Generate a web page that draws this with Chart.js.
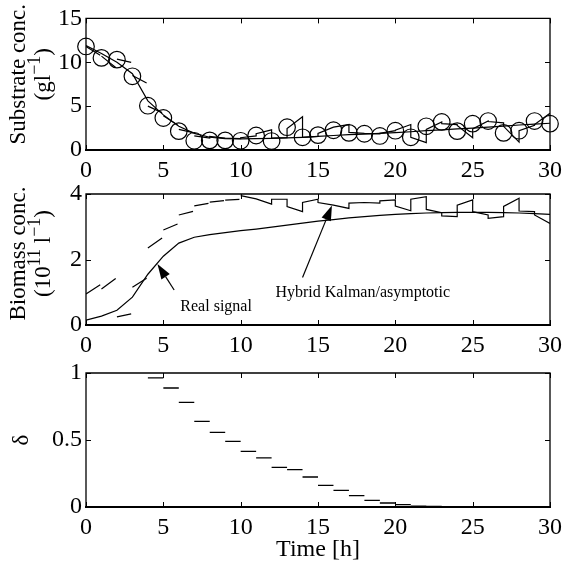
<!DOCTYPE html>
<html>
<head>
<meta charset="utf-8">
<script src="https://cdn.jsdelivr.net/npm/chart.js@4.4.1/dist/chart.umd.min.js"></script>
<style>
  html, body { margin: 0; padding: 0; background: #fff; }
  #wrap { position: relative; width: 568px; height: 565px; overflow: hidden; }
  canvas { position: absolute; left: 0; }
</style>
</head>
<body>
<div id="wrap">
  <canvas id="substrateChart" width="568" height="190" style="top:0px"></canvas>
  <canvas id="biomassChart" width="568" height="200" style="top:165px"></canvas>
  <canvas id="deltaChart" width="568" height="225" style="top:340px"></canvas>
</div>
<script>
// ---- data ----
const hours = [0, 1, 2, 3, 4, 5, 6, 7, 8, 9, 10, 11, 12, 13, 14, 15, 16, 17, 18, 19, 20, 21, 22, 23, 24, 25, 26, 27, 28, 29, 30];

// substrate (g/l)
const substrateMeasured = [11.8, 10.5, 10.3, 8.4, 5.05, 3.65, 2.15, 1.05, 1.1, 1.1, 1.05, 1.65, 1.02, 2.6, 1.45, 1.7, 2.25, 1.95, 1.85, 1.6, 2.2, 1.45, 2.7, 3.2, 2.15, 3.0, 3.3, 1.95, 2.2, 3.3, 3.0];
const substrateReal = [11.9, 11.0, 10.0, 8.7, 5.6, 4.0, 2.7, 1.9, 1.45, 1.3, 1.27, 1.3, 1.33, 1.38, 1.45, 1.55, 1.65, 1.75, 1.82, 1.9, 1.98, 2.08, 2.2, 2.3, 2.4, 2.5, 2.6, 2.72, 2.85, 2.95, 3.05];
// hybrid estimate: value at start and end of each hourly interval
const substrateEstHour = [0, 1, 2, 3, 4, 5, 6, 7, 8, 9, 10, 11, 12, 13, 14, 15, 16, 17, 18, 19, 20, 21, 22, 23, 24, 25, 26, 27, 28, 29];
const substrateEstStart = [11.8, 10.7, 10.35, 8.5, 5.0, 3.9, 2.35, 1.6, 1.55, 1.35, 1.4, 1.85, 1.35, 2.45, 1.45, 1.9, 2.6, 2.0, 1.9, 1.9, 2.25, 1.45, 2.35, 3.0, 2.8, 2.4, 3.25, 2.7, 2.2, 2.9];
const substrateEstEnd = [10.7, 9.3, 9.95, 7.55, 4.2, 2.75, 1.95, 1.35, 1.35, 1.3, 1.6, 2.3, 1.4, 3.8, 1.55, 2.6, 2.9, 1.9, 1.85, 2.2, 2.9, 0.85, 3.2, 2.9, 1.4, 3.3, 3.1, 0.9, 2.8, 4.2];
const substrateLinkedFrom = 7;

// biomass (10^11 /l)
const biomassReal = [0.15, 0.27, 0.45, 0.85, 1.55, 2.1, 2.5, 2.68, 2.76, 2.82, 2.88, 2.93, 2.99, 3.05, 3.11, 3.17, 3.22, 3.27, 3.31, 3.35, 3.38, 3.4, 3.42, 3.43, 3.44, 3.44, 3.44, 3.43, 3.42, 3.4, 3.38];
const biomassEstHour = [0, 1, 2, 3, 4, 5, 6, 7, 8, 9, 10, 11, 12, 13, 14, 15, 16, 17, 18, 19, 20, 21, 22, 23, 24, 25, 26, 27, 28, 29];
const biomassEstStart = [0.95, 1.1, 0.25, 1.15, 2.35, 2.9, 3.36, 3.64, 3.75, 3.81, 3.95, 3.85, 3.84, 3.62, 3.74, 3.74, 3.66, 3.72, 3.74, 3.79, 3.63, 3.84, 3.53, 3.33, 3.66, 3.46, 3.26, 3.62, 3.48, 3.36];
const biomassEstEnd = [1.25, 1.45, 0.35, 1.45, 2.68, 3.1, 3.48, 3.72, 3.8, 3.84, 3.85, 3.69, 3.84, 3.46, 3.84, 3.66, 3.56, 3.74, 3.72, 3.82, 3.49, 3.92, 3.43, 3.31, 3.82, 3.36, 3.31, 3.87, 3.46, 3.1];
const biomassLinkedFrom = 10;

// delta, one value per hour from t = 4
const deltaHour = [4, 5, 6, 7, 8, 9, 10, 11, 12, 13, 14, 15, 16, 17, 18, 19, 20, 21, 22, 23, 24, 25, 26, 27, 28, 29];
const deltaValue = [0.963, 0.888, 0.781, 0.639, 0.557, 0.49, 0.415, 0.366, 0.296, 0.279, 0.224, 0.162, 0.124, 0.085, 0.05, 0.03, 0.017, 0.007, 0.005, 0.003, 0.002, 0, 0, 0, 0, 0];

// annotations in the biomass panel
const noteTexts = ["Real signal", "Hybrid Kalman/asymptotic"];
const noteT = [6.1, 12.25];
const noteV = [0.55, 0.99];
const arrowTailT = [5.7, 14.0];
const arrowTailV = [1.07, 1.45];
const arrowTipT = [4.62, 15.9];
const arrowTipV = [1.86, 3.65];

// axis labels, pieces marked sup are superscripts
const substrateLabel = [[{ text: "Substrate conc." }], [{ text: "(gl" }, { text: "\u22121", sup: true }, { text: ")" }]];
const biomassLabel = [[{ text: "Biomass conc." }], [{ text: "(10" }, { text: "11", sup: true }, { text: " l" }, { text: "\u22121", sup: true }, { text: ")" }]];
const deltaLabel = [[{ text: "\u03B4" }]];

// ---- helpers ----
const FONT = "Liberation Serif";
const DASH_GAP = 0.08;
Chart.defaults.font.family = FONT;
Chart.defaults.font.size = 24;
Chart.defaults.color = "#000";

const pts = (xs, ys) => xs.map((x, i) => ({ x, y: ys[i] }));

const estimatePath = (hrs, starts, ends, linkedFrom) => {
  const out = [];
  hrs.forEach((k, i) => {
    const s = starts[i], e = ends[i];
    if (k < linkedFrom) {
      const xe = k + 1 - DASH_GAP;
      out.push({ x: k, y: s }, { x: xe, y: s + (e - s) * (1 - DASH_GAP) }, { x: xe, y: null });
    } else {
      out.push({ x: k, y: s }, { x: k + 1, y: e });
    }
  });
  return out;
};

const stepDashes = (hrs, vals) => {
  const out = [];
  hrs.forEach((k, i) => {
    out.push({ x: k, y: vals[i] }, { x: k + 1, y: vals[i] }, { x: k + 1, y: null });
  });
  return out;
};

// box around the axes with inward ticks on all four sides
const frame = {
  id: "frame",
  afterDatasetsDraw(chart) {
    const { ctx, chartArea: a, scales: { x, y } } = chart;
    ctx.save();
    ctx.strokeStyle = "#000";
    ctx.lineWidth = 1.3;
    ctx.beginPath();
    ctx.moveTo(a.left, a.bottom);
    ctx.lineTo(a.left, a.top);
    ctx.lineTo(a.right, a.top);
    ctx.lineTo(a.right, a.bottom);
    ctx.stroke();
    ctx.lineWidth = 2;
    ctx.beginPath();
    ctx.moveTo(a.left - 1, a.bottom);
    ctx.lineTo(a.right + 1, a.bottom);
    ctx.stroke();
    ctx.lineWidth = 1;
    ctx.beginPath();
    const len = 5;
    x.ticks.forEach((t) => {
      const px = Math.round(x.getPixelForValue(t.value)) + 0.5;
      ctx.moveTo(px, a.bottom);
      ctx.lineTo(px, a.bottom - len);
      ctx.moveTo(px, a.top);
      ctx.lineTo(px, a.top + len);
    });
    y.ticks.forEach((t) => {
      const py = Math.round(y.getPixelForValue(t.value)) + 0.5;
      ctx.moveTo(a.left, py);
      ctx.lineTo(a.left + len, py);
      ctx.moveTo(a.right, py);
      ctx.lineTo(a.right - len, py);
    });
    ctx.stroke();
    ctx.restore();
  },
};

// rotated y label with superscripts; lines go left to right
const yLabel = (lines, xs, shift) => ({
  id: "yLabel",
  afterDraw(chart) {
    const { ctx, chartArea: a } = chart;
    const cy = (a.top + a.bottom) / 2 + shift;
    const fontOf = (p) => `${p.sup ? 18 : 23}px '${FONT}'`;
    lines.forEach((pieces, li) => {
      ctx.save();
      ctx.translate(xs[li], cy);
      ctx.rotate(-Math.PI / 2);
      ctx.fillStyle = "#000";
      ctx.textBaseline = "middle";
      ctx.textAlign = "left";
      let total = 0;
      pieces.forEach((p) => { ctx.font = fontOf(p); total += ctx.measureText(p.text).width; });
      let cx = -total / 2;
      pieces.forEach((p) => {
        ctx.font = fontOf(p);
        ctx.fillText(p.text, cx, p.sup ? -8 : 0);
        cx += ctx.measureText(p.text).width;
      });
      ctx.restore();
    });
  },
});

const notes = {
  id: "notes",
  afterDatasetsDraw(chart) {
    const { ctx, scales: { x, y } } = chart;
    ctx.save();
    ctx.fillStyle = "#000";
    ctx.strokeStyle = "#000";
    ctx.lineWidth = 1.2;
    noteTexts.forEach((txt, i) => {
      const x0 = x.getPixelForValue(arrowTailT[i]), y0 = y.getPixelForValue(arrowTailV[i]);
      const x1 = x.getPixelForValue(arrowTipT[i]), y1 = y.getPixelForValue(arrowTipV[i]);
      const ang = Math.atan2(y1 - y0, x1 - x0);
      const headLen = 15, half = 5;
      const bx = x1 - headLen * Math.cos(ang), by = y1 - headLen * Math.sin(ang);
      ctx.beginPath();
      ctx.moveTo(x0, y0);
      ctx.lineTo(bx, by);
      ctx.stroke();
      ctx.beginPath();
      ctx.moveTo(x1, y1);
      ctx.lineTo(bx - half * Math.sin(ang), by + half * Math.cos(ang));
      ctx.lineTo(bx + half * Math.sin(ang), by - half * Math.cos(ang));
      ctx.closePath();
      ctx.fill();
      ctx.font = `16px '${FONT}'`;
      ctx.textAlign = "left";
      ctx.textBaseline = "middle";
      ctx.fillText(txt, x.getPixelForValue(noteT[i]), y.getPixelForValue(noteV[i]));
    });
    ctx.restore();
  },
};

const lineSet = (data, width) => ({
  data,
  borderColor: "#000",
  borderWidth: width,
  pointRadius: 0,
  spanGaps: false,
  tension: 0,
});

const makeChart = (id, datasets, cfg) => {
  const canvas = document.getElementById(id);
  return new Chart(canvas.getContext("2d"), {
    type: "line",
    data: { datasets },
    plugins: cfg.plugins,
    options: {
      responsive: false,
      animation: false,
      layout: { padding: { top: cfg.areaTop, right: 11, left: 0, bottom: 0 } },
      plugins: { legend: { display: false }, tooltip: { enabled: false } },
      scales: {
        x: {
          type: "linear",
          min: 0,
          max: 30,
          grid: { display: false, drawTicks: false },
          border: { display: false },
          ticks: { stepSize: 5, padding: 6, maxRotation: 0 },
          title: cfg.xTitle
            ? { display: true, text: cfg.xTitle, padding: { top: 0, bottom: 1 }, font: { size: 24 } }
            : { display: false },
          afterFit: (s) => { s.height = canvas.height - cfg.areaBottom; },
        },
        y: {
          type: "linear",
          min: cfg.yMin,
          max: cfg.yMax,
          grid: { display: false, drawTicks: false },
          border: { display: false },
          ticks: { stepSize: cfg.yStep, padding: 4, callback: (v) => `${v}` },
          afterFit: (s) => { s.width = 86; },
        },
      },
    },
  });
};

// ---- substrate ----
makeChart(
  "substrateChart",
  [
    {
      data: pts(hours, substrateMeasured),
      showLine: false,
      pointStyle: "circle",
      pointRadius: 8.3,
      pointBorderWidth: 1.2,
      pointBorderColor: "#000",
      pointBackgroundColor: "rgba(0,0,0,0)",
      clip: false,
    },
    lineSet(pts(hours, substrateReal), 1.2),
    lineSet(estimatePath(substrateEstHour, substrateEstStart, substrateEstEnd, substrateLinkedFrom), 1.2),
  ],
  {
    areaTop: 15, areaBottom: 150, yMin: 0, yMax: 15, yStep: 5,
    plugins: [frame, yLabel(substrateLabel, [18.5, 43.5], -10)],
  }
);

// ---- biomass ----
makeChart(
  "biomassChart",
  [
    lineSet(pts(hours, biomassReal), 1.2),
    lineSet(estimatePath(biomassEstHour, biomassEstStart, biomassEstEnd, biomassLinkedFrom), 1.2),
  ],
  {
    areaTop: 29, areaBottom: 160, yMin: 0, yMax: 4, yStep: 2,
    plugins: [frame, notes, yLabel(biomassLabel, [18.5, 43.5], -6)],
  }
);

// ---- delta ----
makeChart(
  "deltaChart",
  [lineSet(stepDashes(deltaHour, deltaValue), 1.3)],
  {
    areaTop: 33, areaBottom: 167, yMin: 0, yMax: 1, yStep: 0.5,
    xTitle: "Time [h]", plugins: [frame, yLabel(deltaLabel, [22], 0)],
  }
);
</script>
</body>
</html>
